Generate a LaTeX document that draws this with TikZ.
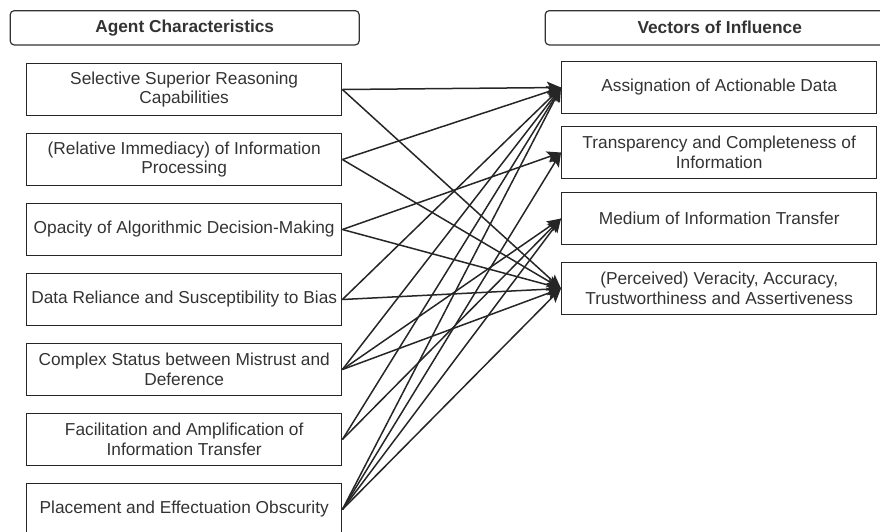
\documentclass[tikz,border=0pt]{standalone}
\usepackage{fontspec}
\setmainfont{Liberation Sans}
\usetikzlibrary{arrows.meta}
\begin{document}
\begin{tikzpicture}[x=1pt,y=-1pt,
  every node/.style={font=\fontsize{17.3}{19.5}\selectfont, text=black!80},
  header/.style={draw=black!80, line width=1.2pt, rounded corners=4pt,
    minimum width=349pt, minimum height=34.3pt, inner sep=0pt,
    font=\fontsize{17.3}{19.5}\selectfont\bfseries},
  item/.style={draw=black!85, line width=1.4pt, minimum width=315pt,
    minimum height=52.4pt, align=center, inner sep=0pt},
  link/.style={draw=black!85, line width=1.5pt,
    -{Stealth[length=14pt,width=12pt,inset=3pt]}}]
\useasboundingbox (0,0) rectangle (880,531);
\clip (0,0) rectangle (880,531);

% column headers
\node[header] (hl) at (184.7,27.8) {Agent Characteristics};
\node[header] (hr) at (719.7,27.8) {Vectors of Influence};

% agent characteristics
\node[item] (l1) at (184.2,89.5)  {Selective Superior Reasoning\\Capabilities};
\node[item] (l2) at (184.2,159.5) {(Relative Immediacy) of Information\\Processing};
\node[item] (l3) at (184.2,229.5) {Opacity of Algorithmic Decision-Making};
\node[item] (l4) at (184.2,299.5) {Data Reliance and Susceptibility to Bias};
\node[item] (l5) at (184.2,369.5) {Complex Status between Mistrust and\\Deference};
\node[item] (l6) at (184.2,439.5) {Facilitation and Amplification of\\Information Transfer};
\node[item] (l7) at (184.2,509.5) {Placement and Effectuation Obscurity};

% vectors of influence
\node[item] (r1) at (719.2,87.5)  {Assignation of Actionable Data};
\node[item] (r2) at (719.2,152.5) {Transparency and Completeness of\\Information};
\node[item] (r3) at (719.2,218.5) {Medium of Information Transfer};
\node[item] (r4) at (719.2,288.5) {(Perceived) Veracity, Accuracy,\\Trustworthiness and Assertiveness};

% influence links
\foreach \a/\b in {l1/r1, l1/r4, l2/r1, l2/r4, l3/r2, l3/r4, l4/r1, l4/r4,
                   l5/r1, l5/r3, l5/r4, l6/r1, l6/r3,
                   l7/r1, l7/r2, l7/r3, l7/r4}
  \draw[link] (\a.east) -- (\b.west);
\end{tikzpicture}
\end{document}
